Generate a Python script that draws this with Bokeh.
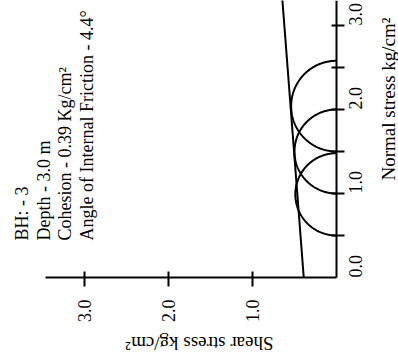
import math
import numpy as np
from bokeh.plotting import figure
from bokeh.models import Range1d, LinearAxis, FixedTicker, PrintfTickFormatter, Label
from bokeh.embed import file_html
from bokeh.resources import INLINE

# ---- data ----
sigma3 = [0.5, 1.0, 1.5]          # minor principal stress of each test (kg/cm2)
sigma1 = [1.48, 2.0, 2.58]        # major principal stress of each test (kg/cm2)
cohesion = 0.39                   # kg/cm2
phi_deg = 4.4                     # angle of internal friction
normal_ticks = [0.0, 1.0, 2.0, 3.0]
normal_minor = [0.5, 1.0, 1.5, 2.0, 2.5, 3.0]
shear_ticks = [1.0, 2.0, 3.0]
shear_axis_end = 3.46
info_lines = ["BH: - 3", "Depth - 3.0 m", "Cohesion - 0.39 Kg/cm²",
              "Angle of Internal Friction - 4.4°"]
normal_label = "Normal stress kg/cm²"
shear_label = "Shear stress kg/cm²"

# ---- layout ----
PX = 84.0                      # pixels per kg/cm2
W, H = 398, 364
OX, OY = 336, 277              # origin in page pixels


def dx(X):
    return (OX - X) / PX


def dy(Y):
    return (OY - Y) / PX


FONT = "Liberation Serif"

p = figure(width=W, height=H, output_backend="svg", toolbar_location=None,
           x_range=Range1d(dx(0), dx(W)), y_range=Range1d(dy(H), dy(0)),
           x_axis_location=None, y_axis_location=None,
           min_border=0, min_border_left=0, min_border_right=0,
           min_border_top=0, min_border_bottom=0)
p.outline_line_color = None
p.xgrid.grid_line_color = None
p.ygrid.grid_line_color = None
p.background_fill_color = "white"
p.border_fill_color = "white"

# shear stress axis (bottom, increasing to the left)
xa = LinearAxis(ticker=FixedTicker(ticks=shear_ticks),
                formatter=PrintfTickFormatter(format="%.1f"),
                fixed_location=0.0, bounds=(0.0, shear_axis_end))
xa.axis_line_width = 2
xa.axis_line_color = "black"
xa.major_tick_line_width = 2
xa.major_tick_line_color = "black"
xa.major_tick_in = 6
xa.major_tick_out = 9
xa.minor_tick_line_color = None
xa.major_label_orientation = math.pi / 2
xa.major_label_standoff = 13
xa.major_label_text_font = FONT
xa.major_label_text_font_size = "18px"
xa.major_label_text_color = "black"
p.add_layout(xa, "below")

# normal stress axis (right, increasing upward)
ya = LinearAxis(ticker=FixedTicker(ticks=normal_ticks, minor_ticks=normal_minor),
                formatter=PrintfTickFormatter(format="%.1f"),
                fixed_location=0.0, bounds=(0.0, dy(-5)))
ya.axis_line_width = 2
ya.axis_line_color = "black"
ya.major_tick_line_color = None
ya.major_tick_in = 5
ya.major_tick_out = 8
ya.minor_tick_line_color = "black"
ya.minor_tick_line_width = 2
ya.minor_tick_in = 5
ya.minor_tick_out = 8
ya.major_label_orientation = math.pi / 2
ya.major_label_standoff = 11
ya.major_label_text_font = FONT
ya.major_label_text_font_size = "18px"
ya.major_label_text_color = "black"
p.add_layout(ya, "right")

# Mohr circles
t = np.linspace(0, np.pi, 241)
for s3, s1 in zip(sigma3, sigma1):
    c = (s1 + s3) / 2.0
    r = (s1 - s3) / 2.0
    p.line(r * np.sin(t), c + r * np.cos(t), line_color="black", line_width=2)

# failure envelope
sig = np.array([0.0, 4.0])
p.line(cohesion + sig * math.tan(math.radians(phi_deg)), sig,
       line_color="black", line_width=2)

# info text block
info_x = [21.5, 43.0, 64.5, 86.0]
for X, txt in zip(info_x, info_lines):
    p.add_layout(Label(x=dx(X), y=dy(240), text=txt, angle=math.pi / 2,
                       text_align="left", text_baseline="alphabetic",
                       text_font=FONT, text_font_size="18px", text_color="black"))

# axis titles
p.add_layout(Label(x=dx(388), y=dy(98.5), text=normal_label, angle=math.pi / 2,
                   text_align="center", text_baseline="alphabetic",
                   text_font=FONT, text_font_size="19px", text_color="black"))
p.add_layout(Label(x=dx(199), y=dy(343), text=shear_label, angle=math.pi,
                   text_align="center", text_baseline="alphabetic",
                   text_font=FONT, text_font_size="19px", text_color="black"))

open("out.html", "w").write(file_html(p, INLINE))
